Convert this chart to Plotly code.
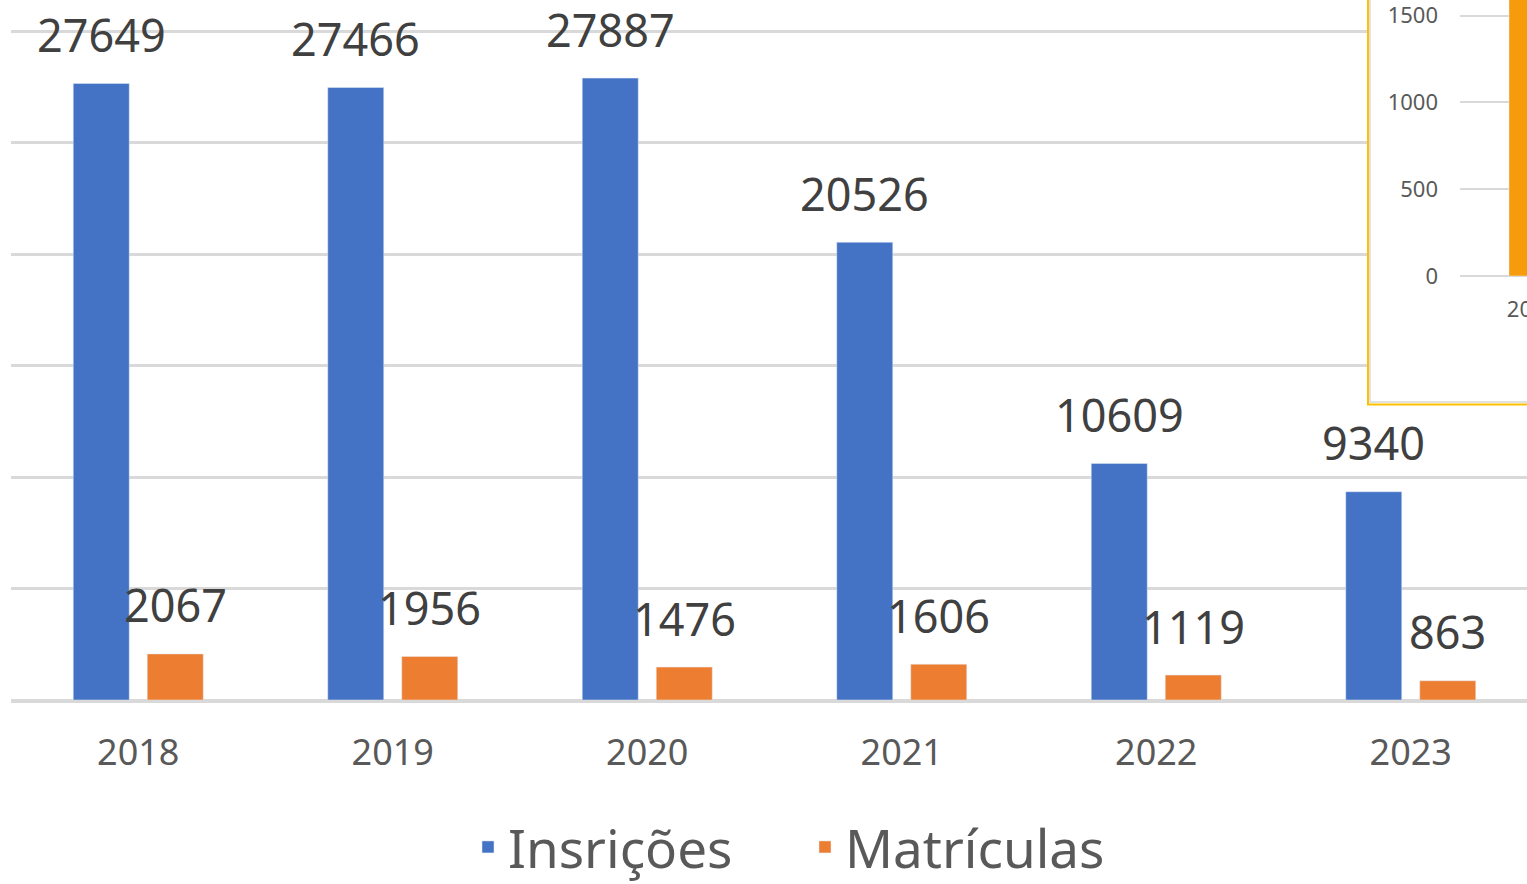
import plotly.graph_objects as go

# ---------------- data ----------------
years = ["2018", "2019", "2020", "2021", "2022", "2023"]
inscricoes = [27649, 27466, 27887, 20526, 10609, 9340]
matriculas = [2067, 1956, 1476, 1606, 1119, 863]
series_names = ["Insrições", "Matrículas"]

inset_years = ["2018"]
inset_values = [2067]

main_ticks = [0, 5000, 10000, 15000, 20000, 25000, 30000]
inset_ticks = [0, 500, 1000, 1500]

# ---------------- styles ----------------
W, H = 1527, 884
BLUE = "#4472C4"
ORANGE = "#ED7D31"
INSET_ORANGE = "#F59B0C"
GRID = "#D9D9D9"
FONT = "Noto Sans"


def px_x(p):
    return p / W


def px_y(p):
    return (H - p) / H


# main plot geometry (pixels)
plot_left, base_y, top_grid_y = 11, 700, 31
cat_w = 254.5
unit_px = (base_y - top_grid_y) / main_ticks[-1]

fig = go.Figure()

fig.add_trace(go.Bar(x=years, y=inscricoes, name=series_names[0],
                     marker=dict(color=BLUE), xaxis="x", yaxis="y"))
fig.add_trace(go.Bar(x=years, y=matriculas, name=series_names[1],
                     marker=dict(color=ORANGE), xaxis="x", yaxis="y"))

# background box of the overlapping inset chart
fig.add_trace(go.Scatter(x=[], y=[], xaxis="x2", yaxis="y2", showlegend=False,
                         hoverinfo="skip"))

# inset chart
fig.add_trace(go.Bar(x=inset_years, y=inset_values, xaxis="x3", yaxis="y3",
                     marker=dict(color=INSET_ORANGE), width=0.3,
                     showlegend=False))

# data labels (category index positions on the category axis)
label_font = dict(family=FONT, size=45, color="#404040")
annotations = []
for i, v in enumerate(inscricoes):
    annotations.append(dict(x=i, y=v, xref="x", yref="y", text=str(v),
                            showarrow=False, xshift=-37, yshift=49,
                            yanchor="middle", font=label_font))
for i, v in enumerate(matriculas):
    annotations.append(dict(x=i, y=v, xref="x", yref="y", text=str(v),
                            showarrow=False, xshift=37, yshift=49,
                            yanchor="middle", font=label_font))

inset_left, inset_base = 1460, 276
inset_unit_px = (276 - 15.5) / inset_ticks[-1]
inset_cat_w = 100
inset_center = 1524

fig.update_layout(
    width=W, height=H,
    margin=dict(l=0, r=0, t=0, b=0, autoexpand=False),
    paper_bgcolor="white", plot_bgcolor="white",
    barmode="group", bargap=0.4185, bargroupgap=0.243,
    font=dict(family=FONT, color="#595959"),
    showlegend=True,
    legend=dict(orientation="h", x=px_x(468), xanchor="left", y=px_y(847),
                yanchor="middle", entrywidth=292, entrywidthmode="pixels",
                font=dict(family=FONT, size=53, color="#595959"),
                bgcolor="rgba(0,0,0,0)"),
    xaxis=dict(type="category", domain=[px_x(plot_left), 1], anchor="y",
               range=[-0.5, -0.5 + (W - plot_left) / cat_w], automargin=False,
               showgrid=False, showline=True, linecolor=GRID, linewidth=3,
               ticks="", ticklabelstandoff=19,
               tickfont=dict(family=FONT, size=36, color="#595959"),
               fixedrange=True),
    yaxis=dict(domain=[px_y(base_y), 1], anchor="x", automargin=False,
               range=[0, base_y / unit_px], tickvals=main_ticks,
               showticklabels=False, showgrid=True, gridcolor=GRID,
               gridwidth=3, zeroline=True, zerolinecolor=GRID,
               zerolinewidth=3, fixedrange=True),
    xaxis2=dict(domain=[px_x(1367), 1], anchor="y2", visible=False,
                range=[0, 1], automargin=False),
    yaxis2=dict(domain=[px_y(405), 1], anchor="x2", visible=False,
                range=[0, 1], automargin=False),
    xaxis3=dict(type="category", domain=[px_x(inset_left), 1], anchor="y3",
                range=[(inset_left - inset_center) / inset_cat_w,
                       (W - inset_center) / inset_cat_w], automargin=False,
                showgrid=False, showline=False, zeroline=False, ticks="",
                ticklabelstandoff=18, ticklabelshift=8,
                ticklabeloverflow="allow",
                tickfont=dict(family=FONT, size=22, color="#595959")),
    yaxis3=dict(domain=[px_y(inset_base), 1], anchor="x3", automargin=False,
                range=[0, inset_base / inset_unit_px], tickvals=inset_ticks,
                showgrid=True, gridcolor=GRID, gridwidth=2,
                zeroline=True, zerolinecolor=GRID, zerolinewidth=2,
                ticks="", ticklabelstandoff=21, ticklabeloverflow="allow",
                tickfont=dict(family=FONT, size=22, color="#595959")),
    annotations=annotations,
    shapes=[
        dict(type="rect", xref="paper", yref="paper",
             x0=px_x(1370), x1=1.2, y0=px_y(402), y1=1.2,
             line=dict(color=GRID, width=1.5), fillcolor="rgba(0,0,0,0)"),
        dict(type="rect", xref="paper", yref="paper",
             x0=px_x(1368), x1=1.2, y0=px_y(404.5), y1=1.2,
             line=dict(color="#FFC000", width=2), fillcolor="rgba(0,0,0,0)"),
    ],
)

fig.write_html("out.html", config={"displayModeBar": False},
               post_script="document.body.style.margin='0';document.body.style.overflow='hidden';")
